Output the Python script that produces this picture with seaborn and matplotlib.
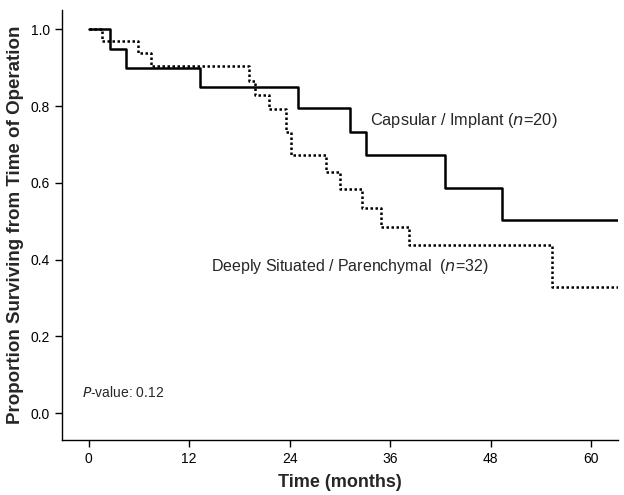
import matplotlib
matplotlib.use("Agg")
import matplotlib.pyplot as plt
import pandas as pd
import seaborn as sns

# Kaplan-Meier steps (months, survival proportion)
caps_time = [0, 2.5, 4.4, 13.3, 25.0, 31.2, 33.1, 42.6, 49.4, 63.3]
caps_surv = [1.0, 0.95, 0.90, 0.85, 0.795, 0.733, 0.673, 0.588, 0.503, 0.503]

deep_time = [0, 1.6, 5.9, 7.4, 19.1, 19.8, 21.5, 23.6, 24.1, 28.3, 30.0, 32.7, 34.9, 38.2, 55.3, 63.3]
deep_surv = [1.0, 0.969, 0.9375, 0.906, 0.866, 0.829, 0.792, 0.733, 0.673, 0.629, 0.584, 0.535, 0.485, 0.438, 0.329, 0.329]

x_ticks = [0, 12, 24, 36, 48, 60]
y_ticks = [0.0, 0.2, 0.4, 0.6, 0.8, 1.0]

caps = pd.DataFrame({"time": caps_time, "surv": caps_surv})
deep = pd.DataFrame({"time": deep_time, "surv": deep_surv})

sns.set_style("ticks")
plt.rcParams["font.family"] = ["Liberation Sans", "DejaVu Sans"]

fig = plt.figure(figsize=(6.24, 4.95), dpi=100)
ax = fig.add_axes([0.0994, 0.111, 0.8906, 0.869])

sns.lineplot(data=caps, x="time", y="surv", ax=ax, color="black", linewidth=1.8,
             drawstyle="steps-post", estimator=None)
sns.lineplot(data=deep, x="time", y="surv", ax=ax, color="black", linewidth=1.8,
             drawstyle="steps-post", estimator=None, linestyle=(0, (1, 1)))

ax.set_xlim(-3.2, 63.2)
ax.set_ylim(-0.07, 1.051)
ax.set_xticks(x_ticks)
ax.set_yticks(y_ticks)
ax.set_yticklabels([f"{v:.1f}" for v in y_ticks])
ax.tick_params(direction="out", length=5, width=1, labelsize=10, colors="black")
for side in ["top", "right"]:
    ax.spines[side].set_visible(False)
for side in ["left", "bottom"]:
    ax.spines[side].set_linewidth(1)
    ax.spines[side].set_color("black")

ax.set_xlabel("Time (months)", fontsize=13, fontweight="bold", labelpad=6)
ax.set_ylabel("Proportion Surviving from Time of Operation", fontsize=13.5, fontweight="bold", labelpad=5)

ax.text(33.6, 0.763, "Capsular / Implant ($\\it{n}$=20)", fontsize=11.8, va="center", ha="left")
ax.text(14.6, 0.383, "Deeply Situated / Parenchymal  ($\\it{n}$=32)", fontsize=11.5, va="center", ha="left")
ax.text(-0.85, 0.055, "$\\it{P}$-value: 0.12", fontsize=10, va="center", ha="left")

fig.savefig("out.png", dpi=100)
